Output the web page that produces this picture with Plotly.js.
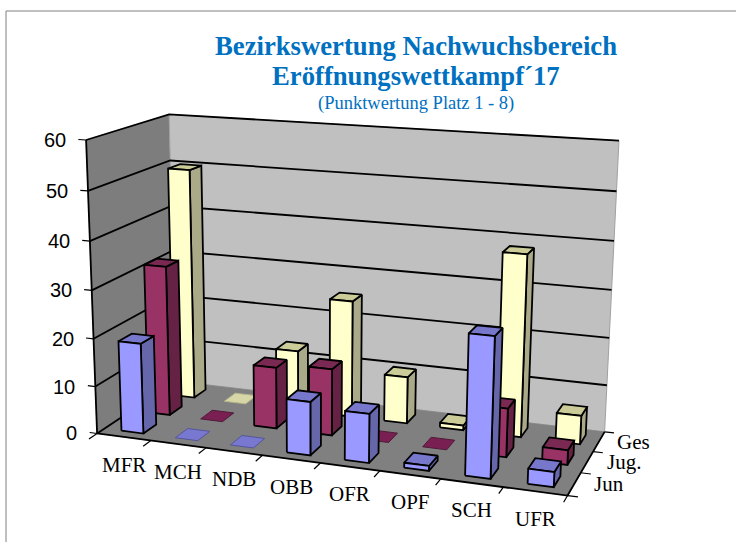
<!DOCTYPE html>
<html><head><meta charset="utf-8">
<script src="https://cdn.plot.ly/plotly-3.0.1.min.js"></script>
<style>html,body{margin:0;padding:0;background:#fff}</style></head>
<body><div id="chart" style="width:736px;height:542px"></div>
<script>
// ---- data ----
const categories = ['MFR','MCH','NDB','OBB','OFR','OPF','SCH','UFR'];
const seriesNames = ['Jun','Jug.','Ges'];
const jun = [19,0,0,11,10,1,28,3];
const jug = [32,0,13,14,0,0,10,3];
const ges = [50,0,13,25,10,1,38,6];
const yTicks = [0,10,20,30,40,50,60];

// ---- projection of the 3D chart box (category, depth, value) on the page ----
const calib = [
 [0,0,0,99,434],[8,0,0,567,496],[8,3,0,605,432],[0,3,0,174,381],
 [0,0,60,85,139],[0,3,60,170,115],[8,3,60,619,142],
 [8,3,40,614,240],[8,3,20,609.5,337],[4,0,0,320,463]
];
function solveP(){
  const n=11,A=[...Array(n)].map(()=>Array(n+1).fill(0));
  const add=(r,b)=>{for(let i=0;i<n;i++){for(let j=0;j<n;j++)A[i][j]+=r[i]*r[j];A[i][n]+=r[i]*b;}};
  calib.forEach(([u,v,w,x,y])=>{
    w/=60;x/=100;y/=100;
    add([u,v,w,1,0,0,0,0,-x*u,-x*v,-x*w],x);
    add([0,0,0,0,u,v,w,1,-y*u,-y*v,-y*w],y);
  });
  for(let c=0;c<n;c++){
    let p=c;for(let r=c+1;r<n;r++)if(Math.abs(A[r][c])>Math.abs(A[p][c]))p=r;
    [A[c],A[p]]=[A[p],A[c]];
    for(let r=0;r<n;r++)if(r!==c){const f=A[r][c]/A[c][c];for(let k=c;k<=n;k++)A[r][k]-=f*A[c][k];}
  }
  return A.map((row,i)=>row[n]/row[i]);
}
const P=solveP();
function proj(u,v,w){
  w/=60;
  const d=P[8]*u+P[9]*v+P[10]*w+1;
  return [100*(P[0]*u+P[1]*v+P[2]*w+P[3])/d,100*(P[4]*u+P[5]*v+P[6]*w+P[7])/d];
}
function poly(pts){const xs=[],ys=[];pts.forEach(p=>{const q=proj(...p);xs.push(q[0]);ys.push(q[1]);});
  xs.push(xs[0]);ys.push(ys[0]);return [xs,ys];}
function faceTrace(polys,fill,line,width){
  const x=[],y=[];
  polys.forEach(p=>{const [a,b]=poly(p);x.push(...a,null);y.push(...b,null);});
  return {type:'scatter',mode:'lines',x,y,fill:'toself',fillcolor:fill,
    line:{color:line,width:width},hoverinfo:'skip',showlegend:false};
}
function lineTrace(segs,color,width){
  const x=[],y=[];
  segs.forEach(s=>{s.forEach(p=>{const q=proj(...p);x.push(q[0]);y.push(q[1]);});x.push(null);y.push(null);});
  return {type:'scatter',mode:'lines',x,y,line:{color,width},hoverinfo:'skip',showlegend:false};
}

const traces=[];
// walls and floor
traces.push(faceTrace([[[0,0,0],[0,3,0],[0,3,60],[0,0,60]]],'#7d7d7d','#7d7d7d',0.5));
traces.push(faceTrace([[[0,3,0],[8,3,0],[8,3,60],[0,3,60]]],'#c0c0c0','#a0a0a0',1));
traces.push(faceTrace([[[0,0,0],[8,0,0],[8,3,0],[0,3,0]]],'#808080','#808080',0.5));
// gridlines (left wall + back wall)
const grid=yTicks.filter(t=>t>0).map(t=>[[0,0,t],[0,3,t],[8,3,t]]);
traces.push(lineTrace(grid,'#000',1.8));
traces.push(lineTrace([[[0,0,0],[0,0,60]],[[0,0,0],[8,0,0],[8,3,0]],[[0,0,0],[0,3,0]]],'#000',1.8));
// ticks
const tk=[];
yTicks.forEach(t=>tk.push([[0,0,t],[-0.14,0,t]]));
for(let i=0;i<=8;i++)tk.push([[i,0,0],[i,-0.28,0]]);
for(let j=0;j<=3;j++)tk.push([[8,j,0],[8.16,j,0]]);
traces.push(lineTrace(tk,'#000',1.2));

// bars, back row first
const rows=[
 {vals:ges,v:2,front:'#ffffcc',side:'#aaaa88',top:'#cccc99',flat:'#b8b890',flatFill:'#d6d6a6'},
 {vals:jug,v:1,front:'#993366',side:'#662244',top:'#7a2952',flat:'#4e1c38',flatFill:'#7a1f52'},
 {vals:jun,v:0,front:'#9999ff',side:'#6666aa',top:'#7777cc',flat:'#55559a',flatFill:'#7878d0'}
];
const U0=0.32,U1=0.73,V0=0.26,V1=0.74;
rows.forEach(r=>{
  const side=[],top=[],front=[],flat=[];
  r.vals.forEach((h,i)=>{
    const a=i+U0,b=i+U1,c=r.v+V0,d=r.v+V1;
    const t=[[a,c,h],[b,c,h],[b,d,h],[a,d,h]];
    if(h===0){flat.push(t);return;}
    side.push([[b,c,0],[b,d,0],[b,d,h],[b,c,h]]);
    top.push(t);
    front.push([[a,c,0],[b,c,0],[b,c,h],[a,c,h]]);
  });
  traces.push(faceTrace(flat,r.flatFill,r.flat,1));
  traces.push(faceTrace(side,r.side,'#000',1.8));
  traces.push(faceTrace(top,r.top,'#000',1.8));
  traces.push(faceTrace(front,r.front,'#000',1.8));
});

// ---- texts ----
const SERIF='"Liberation Serif","Times New Roman",serif', SANS='"Liberation Sans",Arial,sans-serif';
const ann=[];
yTicks.forEach(t=>{const q=proj(0,0,t);
  ann.push({x:q[0],y:q[1],xref:'x',yref:'y',text:String(t),showarrow:false,xanchor:'right',yanchor:'middle',
    xshift:-18,yshift:0,font:{family:SANS,size:20,color:'#000'}});});
categories.forEach((c,i)=>{const q=proj(i+0.5,0,0);
  ann.push({x:q[0],y:q[1],xref:'x',yref:'y',text:c,showarrow:false,xanchor:'center',yanchor:'middle',
    xshift:0,yshift:-27.5,font:{family:SERIF,size:21,color:'#000'}});});
seriesNames.forEach((s,j)=>{const q=proj(8,j+0.5,0);
  ann.push({x:q[0],y:q[1],xref:'x',yref:'y',text:s,showarrow:false,xanchor:'left',yanchor:'middle',
    xshift:j===2?16:18,yshift:0,font:{family:SERIF,size:21,color:'#000'}});});
ann.push({x:416,y:76,xref:'x',yref:'y',text:'<b>Eröffnungswettkampf´17</b>',showarrow:false,xanchor:'center',yanchor:'middle',
  font:{family:SERIF,size:26.7,color:'#0070c0'}});
ann.push({x:416,y:103,xref:'x',yref:'y',text:'(Punktwertung Platz 1 - 8)',showarrow:false,xanchor:'center',yanchor:'middle',
  font:{family:SERIF,size:18.5,color:'#0070c0'}});

const layout={
  width:736,height:542,margin:{l:0,r:0,t:0,b:0},paper_bgcolor:'#fff',plot_bgcolor:'#fff',
  showlegend:false,
  title:{text:'<b>Bezirkswertung Nachwuchsbereich</b>',
    font:{family:SERIF,size:26.7,color:'#0070c0'},x:416/736,xanchor:'center',y:1-46/542,yanchor:'middle'},
  xaxis:{range:[0,736],visible:false,fixedrange:true},
  yaxis:{range:[542,0],visible:false,fixedrange:true},
  annotations:ann,
  shapes:[{type:'path',path:'M 6 542 L 6 11 L 736 11',xref:'x',yref:'y',line:{color:'#808080',width:1}}]
};
Plotly.newPlot('chart',traces,layout,{displayModeBar:false,staticPlot:true});
</script></body></html>
